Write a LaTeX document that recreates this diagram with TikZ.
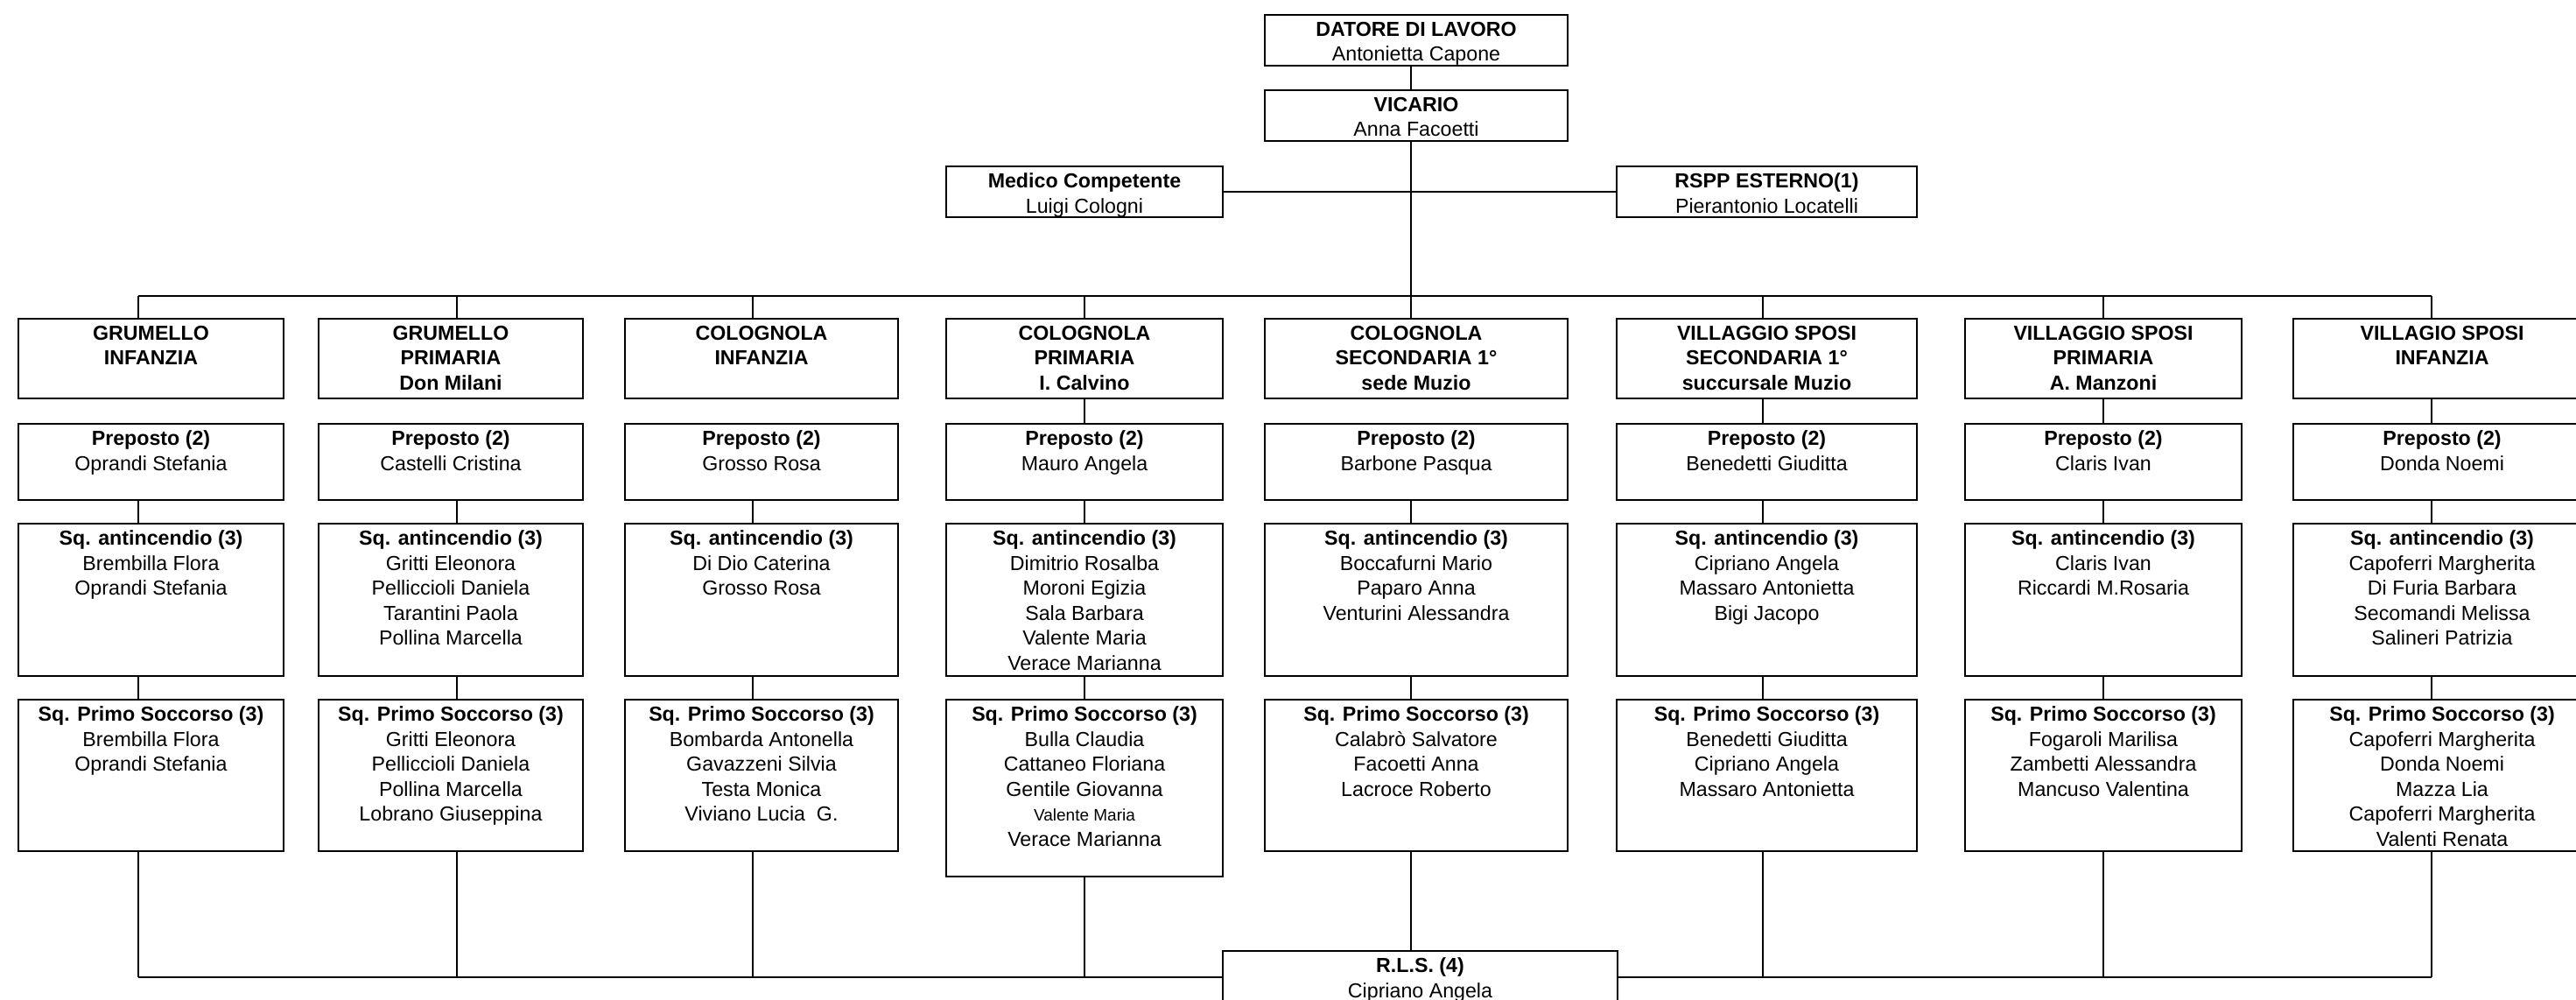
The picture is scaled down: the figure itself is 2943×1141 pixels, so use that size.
\documentclass[tikz,border=0pt]{standalone}
\usepackage{fontspec}
\setmainfont{Liberation Sans}
\usepackage{tikz}
\tikzstyle{chart} = [x = 0.01cm, y = -0.01cm]
\tikzstyle{boxStyle} = [draw=black, line width=0.5pt, inner sep=0pt, outer sep=0pt, anchor=north west]
\tikzstyle{boxText} = [anchor=north, align=center, inner sep=0pt, yshift=-2.1pt, font=\fontsize{6.6}{8.1}\selectfont]
\tikzstyle{linkLine} = [color=black, line width=0.35pt]
\tikzstyle{busLine} = [color=black, line width=0.6pt]
\newcommand{\pxUnit}{0.01cm}
\newcommand{\smallName}[1]{{\fontsize{5.4}{8.1}\selectfont #1}}
\newcommand{\orgBox}[6]{\node [boxStyle, minimum width = {(#4 - #2) * \pxUnit}, minimum height = {(#5 - #3) * \pxUnit}] (#1) at (#2, #3) {}; \node [boxText] (#1Text) at (#1.north) {#6};}

\begin{document}
\begin{tikzpicture}[chart]
      \useasboundingbox (0, 0) rectangle (2943, 1141);
      \orgBox{datore}{1445}{17}{1791}{75}{\textbf{DATORE DI LAVORO}\\Antonietta Capone}
      \orgBox{vicario}{1445}{103}{1791}{161}{\textbf{VICARIO}\\Anna Facoetti}
      \orgBox{medico}{1081}{190}{1397}{248}{\textbf{Medico Competente}\\Luigi Cologni}
      \orgBox{rspp}{1847}{190}{2190}{248}{\textbf{RSPP ESTERNO(1)}\\Pierantonio Locatelli}

      \orgBox{sede1}{21}{364}{324}{455}{\textbf{GRUMELLO}\\\textbf{INFANZIA}}
      \orgBox{sede2}{364}{364}{666}{455}{\textbf{GRUMELLO}\\\textbf{PRIMARIA}\\\textbf{Don Milani}}
      \orgBox{sede3}{714}{364}{1026}{455}{\textbf{COLOGNOLA}\\\textbf{INFANZIA}}
      \orgBox{sede4}{1081}{364}{1397}{455}{\textbf{COLOGNOLA}\\\textbf{PRIMARIA}\\\textbf{I. Calvino}}
      \orgBox{sede5}{1445}{364}{1791}{455}{\textbf{COLOGNOLA}\\\textbf{SECONDARIA 1°}\\\textbf{sede Muzio}}
      \orgBox{sede6}{1847}{364}{2190}{455}{\textbf{VILLAGGIO SPOSI}\\\textbf{SECONDARIA 1°}\\\textbf{succursale Muzio}}
      \orgBox{sede7}{2245}{364}{2561}{455}{\textbf{VILLAGGIO SPOSI}\\\textbf{PRIMARIA}\\\textbf{A. Manzoni}}
      \orgBox{sede8}{2620}{364}{2960}{455}{\textbf{VILLAGIO SPOSI}\\\textbf{INFANZIA}}

      \orgBox{prep1}{21}{484}{324}{571}{\textbf{Preposto (2)}\\Oprandi Stefania}
      \orgBox{prep2}{364}{484}{666}{571}{\textbf{Preposto (2)}\\Castelli Cristina}
      \orgBox{prep3}{714}{484}{1026}{571}{\textbf{Preposto (2)}\\Grosso Rosa}
      \orgBox{prep4}{1081}{484}{1397}{571}{\textbf{Preposto (2)}\\Mauro Angela}
      \orgBox{prep5}{1445}{484}{1791}{571}{\textbf{Preposto (2)}\\Barbone Pasqua}
      \orgBox{prep6}{1847}{484}{2190}{571}{\textbf{Preposto (2)}\\Benedetti Giuditta}
      \orgBox{prep7}{2245}{484}{2561}{571}{\textbf{Preposto (2)}\\Claris Ivan}
      \orgBox{prep8}{2620}{484}{2960}{571}{\textbf{Preposto (2)}\\Donda Noemi}

      \orgBox{anti1}{21}{598}{324}{772}{\textbf{Sq. antincendio (3)}\\Brembilla Flora\\Oprandi Stefania}
      \orgBox{anti2}{364}{598}{666}{772}{\textbf{Sq. antincendio (3)}\\Gritti Eleonora\\Pelliccioli Daniela\\Tarantini Paola\\Pollina Marcella}
      \orgBox{anti3}{714}{598}{1026}{772}{\textbf{Sq. antincendio (3)}\\Di Dio Caterina\\Grosso Rosa}
      \orgBox{anti4}{1081}{598}{1397}{772}{\textbf{Sq. antincendio (3)}\\Dimitrio Rosalba\\Moroni Egizia\\Sala Barbara\\Valente Maria\\Verace Marianna}
      \orgBox{anti5}{1445}{598}{1791}{772}{\textbf{Sq. antincendio (3)}\\Boccafurni Mario\\Paparo Anna\\Venturini Alessandra}
      \orgBox{anti6}{1847}{598}{2190}{772}{\textbf{Sq. antincendio (3)}\\Cipriano Angela\\Massaro Antonietta\\Bigi Jacopo}
      \orgBox{anti7}{2245}{598}{2561}{772}{\textbf{Sq. antincendio (3)}\\Claris Ivan\\Riccardi M.Rosaria}
      \orgBox{anti8}{2620}{598}{2960}{772}{\textbf{Sq. antincendio (3)}\\Capoferri Margherita\\Di Furia Barbara\\Secomandi Melissa\\Salineri Patrizia}

      \orgBox{primo1}{21}{799}{324}{972}{\textbf{Sq. Primo Soccorso (3)}\\Brembilla Flora\\Oprandi Stefania}
      \orgBox{primo2}{364}{799}{666}{972}{\textbf{Sq. Primo Soccorso (3)}\\Gritti Eleonora\\Pelliccioli Daniela\\Pollina Marcella\\Lobrano Giuseppina}
      \orgBox{primo3}{714}{799}{1026}{972}{\textbf{Sq. Primo Soccorso (3)}\\Bombarda Antonella\\Gavazzeni Silvia\\Testa Monica\\Viviano Lucia~ G.}
      \orgBox{primo4}{1081}{799}{1397}{1001}{\textbf{Sq. Primo Soccorso (3)}\\Bulla Claudia\\Cattaneo Floriana\\Gentile Giovanna\\\smallName{Valente Maria}\\Verace Marianna}
      \orgBox{primo5}{1445}{799}{1791}{972}{\textbf{Sq. Primo Soccorso (3)}\\Calabrò Salvatore\\Facoetti Anna\\Lacroce Roberto}
      \orgBox{primo6}{1847}{799}{2190}{972}{\textbf{Sq. Primo Soccorso (3)}\\Benedetti Giuditta\\Cipriano Angela\\Massaro Antonietta}
      \orgBox{primo7}{2245}{799}{2561}{972}{\textbf{Sq. Primo Soccorso (3)}\\Fogaroli Marilisa\\Zambetti Alessandra\\Mancuso Valentina}
      \orgBox{primo8}{2620}{799}{2960}{972}{\textbf{Sq. Primo Soccorso (3)}\\Capoferri Margherita\\Donda Noemi\\Mazza Lia\\Capoferri Margherita\\Valenti Renata}

      \orgBox{rls}{1397}{1086}{1848}{1146}{\textbf{R.L.S. (4)}\\Cipriano Angela}

      % links
      \foreach \i/\lx in {1/158, 2/522, 3/860, 4/1239, 5/1612, 6/2014, 7/2403, 8/2778}
        \coordinate (axis\i) at (\lx, 0);
      \coordinate (topBus) at (1612, 338);
      \draw [linkLine] (datore.south -| axis5) -- (vicario.north -| axis5);
      \draw [linkLine] (vicario.south -| axis5) -- (topBus);
      \draw [linkLine] (medico) -- (rspp);
      \draw [busLine] (topBus -| axis1) -- (topBus -| axis8);
      \foreach \i in {1,...,8} {
        \draw [linkLine] (sede\i.north -| axis\i) -- (topBus -| axis\i);
        \draw [linkLine] (prep\i.south -| axis\i) -- (anti\i.north -| axis\i);
        \draw [linkLine] (anti\i.south -| axis\i) -- (primo\i.north -| axis\i);
      }
      \foreach \i in {4,6,7,8}
        \draw [linkLine] (sede\i.south -| axis\i) -- (prep\i.north -| axis\i);

      \foreach \i in {1,...,4}
        \draw [linkLine] (primo\i.south -| axis\i) -- (rls.west -| axis\i);
      \foreach \i in {6,7,8}
        \draw [linkLine] (primo\i.south -| axis\i) -- (rls.east -| axis\i);
      \draw [linkLine] (primo5.south -| axis5) -- (rls.north -| axis5);
      \draw [busLine] (rls.west -| axis1) -- (rls.west);
      \draw [busLine] (rls.east) -- (rls.east -| axis8);
    \end{tikzpicture}
\end{document}
